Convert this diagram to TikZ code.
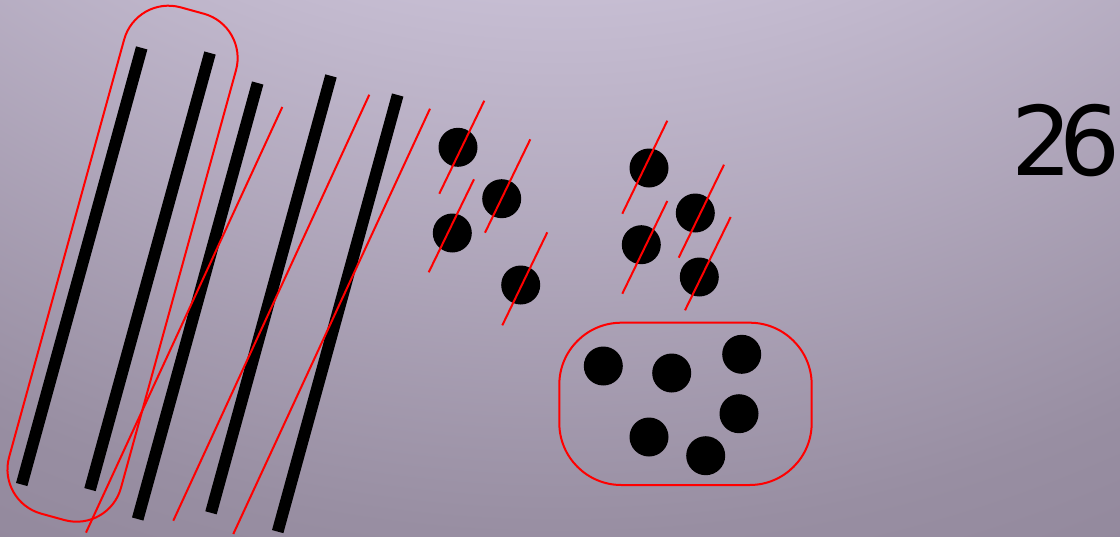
\documentclass[tikz,border=0pt]{standalone}
\usepackage{fontspec}
\newfontfamily\digitfont{DejaVu Sans}
\pgfdeclareradialshading{bgshade}{\pgfpoint{0bp}{0bp}}{rgb(0bp)=(0.776,0.741,0.824); rgb(10bp)=(0.776,0.741,0.824); rgb(16.7bp)=(0.596,0.557,0.635); rgb(18.5bp)=(0.573,0.533,0.612); rgb(25bp)=(0.573,0.533,0.612); rgb(50bp)=(0.573,0.533,0.612)}
\begin{document}
\begin{tikzpicture}[x=1pt,y=-1pt,
  bar/.style={line width=11.8pt,black},
  redline/.style={draw=red,line width=2pt},
  dot/.style={fill=black},
]
\useasboundingbox (0,0) rectangle (1120,536);
\begin{scope}
\clip (0,0) rectangle (1120,536);
\shade[shading=bgshade] (560,-800) circle [radius=2000pt];
\end{scope}
% bars
\draw[bar] (141.7,47.9) -- (21.7,484.5);
\draw[bar] (210,53) -- (90,489.6);
\draw[bar] (257.7,83) -- (137.7,519);
\draw[bar] (331,75.9) -- (211,512.8);
\draw[bar] (397.7,95) -- (277.7,531.6);
% stadium around first two bars
\begin{scope}[shift={(122.55,263.7)},rotate=-15.4]
\draw[redline,rounded corners=46pt] (-58,-262.6) rectangle (58,262.6);
\end{scope}
% long red lines
\draw[redline] (282.3,107) -- (86,532.6);
\draw[redline] (369.3,94.7) -- (173.3,520.7);
\draw[redline] (430,108.7) -- (233.3,534);
% dots with strokes
\fill[dot] (458,147.3) circle [radius=19.5pt];
\fill[dot] (501.7,198.7) circle [radius=19.5pt];
\fill[dot] (452.3,233) circle [radius=19.5pt];
\fill[dot] (520.7,285) circle [radius=19.5pt];
\fill[dot] (649,168) circle [radius=19.5pt];
\fill[dot] (695.3,213) circle [radius=19.5pt];
\fill[dot] (641.3,244.7) circle [radius=19.5pt];
\fill[dot] (699.3,277) circle [radius=19.5pt];
\draw[redline] (484.3,100.7) -- (439.3,193.7);
\draw[redline] (530.3,139.3) -- (485,232.7);
\draw[redline] (474,179.3) -- (428.7,272.3);
\draw[redline] (547.3,232.3) -- (502.3,325.3);
\draw[redline] (667.3,120.7) -- (622.3,213.7);
\draw[redline] (724,164.7) -- (678.7,257.7);
\draw[redline] (667.3,201) -- (622.3,293.7);
\draw[redline] (730.7,217) -- (685,310.3);
% group of dots
\draw[redline,rounded corners=62pt] (559.3,322.7) rectangle (811.7,485);
\fill[dot] (603.3,366) circle [radius=19.5pt];
\fill[dot] (671.7,373) circle [radius=19.5pt];
\fill[dot] (741.7,354.3) circle [radius=19.5pt];
\fill[dot] (739,413.7) circle [radius=19.5pt];
\fill[dot] (649,437) circle [radius=19.5pt];
\fill[dot] (705.7,455.7) circle [radius=19.5pt];
% number
\node[anchor=base west,inner sep=0pt,font=\digitfont\fontsize{96}{96}\selectfont] (num) at (1011,175) {2\kern-13pt6};
\end{tikzpicture}
\end{document}
